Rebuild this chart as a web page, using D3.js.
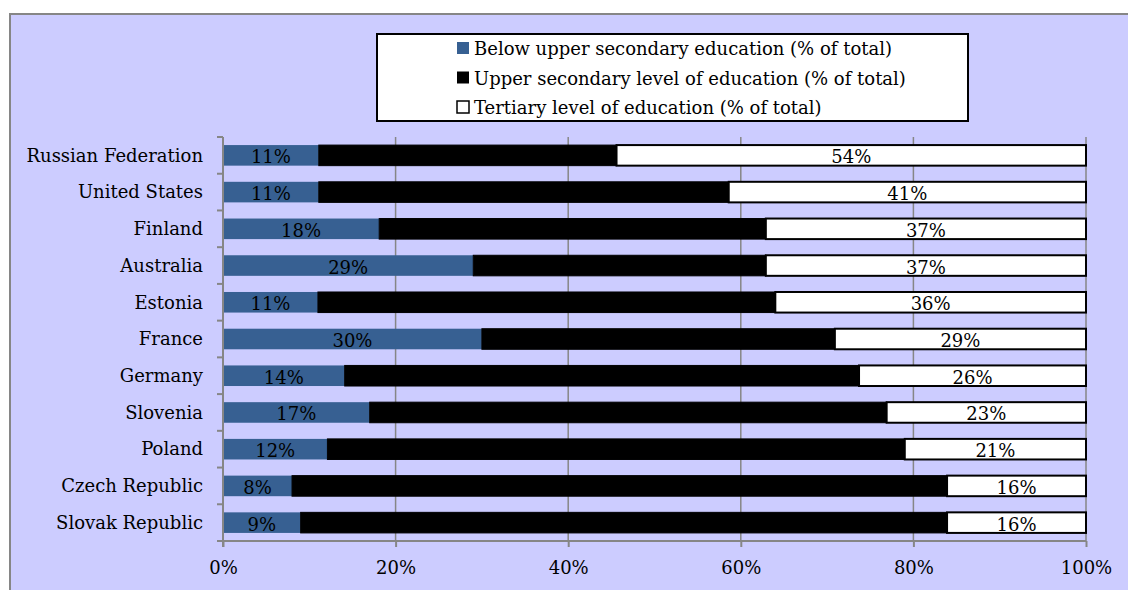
<!DOCTYPE html>
<html>
<head>
<meta charset="utf-8">
<script src="https://cdn.jsdelivr.net/npm/d3@7"></script>
<style>
  body { margin: 0; background: #fff; }
  text { font-family: "DejaVu Serif", serif; fill: #000; }
</style>
</head>
<body>
<div id="chart"></div>
<script>
// data (percent of total)
var countries = ["Russian Federation", "United States", "Finland", "Australia", "Estonia",
  "France", "Germany", "Slovenia", "Poland", "Czech Republic", "Slovak Republic"]
var below    = [11.1, 11.1, 18.1, 29.0, 11.0, 30.0, 14.1, 17.0, 12.1, 8.0, 9.0]
var upper    = [34.5, 47.5, 44.8, 33.9, 53.0, 40.9, 59.6, 59.9, 66.9, 75.9, 74.9]
var tertiary = [54.4, 41.4, 37.1, 37.1, 36.0, 29.1, 26.3, 23.1, 21.0, 16.1, 16.1]
var seriesNames = ["Below upper secondary education (% of total)",
  "Upper secondary level of education (% of total)",
  "Tertiary level of education (% of total)"]
var xTicks = [0, 20, 40, 60, 80, 100]

var width = 1128, height = 590
var margin = {left: 223, right: 42, top: 137, bottom: 49}

var svg = d3.select("#chart").append("svg")
  .attr("width", width).attr("height", height)

// chart area frame
svg.append("rect")
  .attr("x", 10).attr("y", 14)
  .attr("width", width).attr("height", height)
  .attr("fill", "#ccccff")
  .attr("stroke", "#868686").attr("stroke-width", 2)

var x = d3.scaleLinear().domain([0, 100]).range([margin.left, width - margin.right])
var y = d3.scaleBand().domain(countries)
  .range([margin.top, height - margin.bottom]).paddingInner(0.44).paddingOuter(0.22)

// vertical gridlines
svg.append("g")
  .selectAll("line").data(xTicks.slice(1)).enter().append("line")
  .attr("x1", function(d){ return x(d) }).attr("x2", function(d){ return x(d) })
  .attr("y1", margin.top).attr("y2", height - margin.bottom)
  .attr("stroke", "#868686").attr("stroke-width", 1.5)

// stacked bars
var table = countries.map(function(c, i){
  return {country: c, below: below[i], upper: upper[i], tertiary: tertiary[i]}
})
var stack = d3.stack().keys(["below", "upper", "tertiary"])
var layers = stack(table)
var fills = ["#376092", "#000000", "#ffffff"]

var groups = svg.selectAll("g.layer").data(layers).enter().append("g")
  .attr("class", "layer")
  .attr("fill", function(d, i){ return fills[i] })

groups.selectAll("rect").data(function(d){ return d }).enter().append("rect")
  .attr("x", function(d){ return x(d[0]) })
  .attr("y", function(d){ return y(d.data.country) })
  .attr("width", function(d){ return x(d[1]) - x(d[0]) })
  .attr("height", y.bandwidth())
  .attr("stroke", function(d){ return this.parentNode.__data__.key == "below" ? "none" : "#000" })
  .attr("stroke-width", function(d){ return this.parentNode.__data__.key == "tertiary" ? 2 : 1 })

// value labels for the blue and white segments
layers.forEach(function(layer){
  if (layer.key == "upper") return
  svg.append("g").selectAll("text").data(layer).enter().append("text")
    .attr("x", function(d){ return (x(d[0]) + x(d[1])) / 2 })
    .attr("y", function(d){ return y(d.data.country) + y.bandwidth() / 2 + 8 })
    .attr("text-anchor", "middle")
    .style("font-size", "18px")
    .text(function(d){ return Math.round(d.data[layer.key]) + "%" })
})

// axes
var yAxis = svg.append("g")
  .attr("transform", "translate(" + margin.left + ",0)")
  .call(d3.axisLeft(y).tickSize(0).tickPadding(20))
yAxis.select(".domain").remove()
yAxis.selectAll("text").style("font-size", "18px").attr("dy", "0.35em")

// category boundary ticks on y axis
svg.append("line")
  .attr("x1", margin.left).attr("x2", margin.left)
  .attr("y1", margin.top).attr("y2", height - margin.bottom + 6)
  .attr("stroke", "#868686").attr("stroke-width", 2)
svg.append("g").selectAll("line").data(d3.range(countries.length + 1)).enter().append("line")
  .attr("x1", margin.left - 6).attr("x2", margin.left)
  .attr("y1", function(i){ return margin.top + i * (height - margin.bottom - margin.top) / countries.length })
  .attr("y2", function(i){ return margin.top + i * (height - margin.bottom - margin.top) / countries.length })
  .attr("stroke", "#868686").attr("stroke-width", 2)

var xAxis = svg.append("g")
  .attr("transform", "translate(0," + (height - margin.bottom) + ")")
  .call(d3.axisBottom(x).tickValues(xTicks).tickSize(6).tickPadding(14)
    .tickFormat(function(d){ return d + "%" }))
xAxis.select(".domain").attr("stroke", "#868686").attr("stroke-width", 2)
  .attr("d", "M" + (margin.left - 6) + ",0H" + x(100))
xAxis.selectAll(".tick line").attr("stroke", "#868686").attr("stroke-width", 2)
xAxis.selectAll("text").style("font-size", "18px")

// legend
var legend = svg.append("g")
legend.append("rect")
  .attr("x", 377).attr("y", 34).attr("width", 591).attr("height", 87)
  .attr("fill", "#fff").attr("stroke", "#000").attr("stroke-width", 2)
var items = legend.selectAll("g").data(seriesNames).enter().append("g")
  .attr("transform", function(d, i){ return "translate(457," + (48 + i * 29.5) + ")" })
items.append("rect")
  .attr("x", 0).attr("y", -6).attr("width", 12).attr("height", 12)
  .attr("fill", function(d, i){ return fills[i] })
  .attr("stroke", function(d, i){ return i == 2 ? "#000" : "none" })
  .attr("stroke-width", 1.5)
items.append("text")
  .attr("x", 17).attr("y", 7)
  .style("font-size", "18px")
  .text(function(d){ return d })
</script>
</body>
</html>
